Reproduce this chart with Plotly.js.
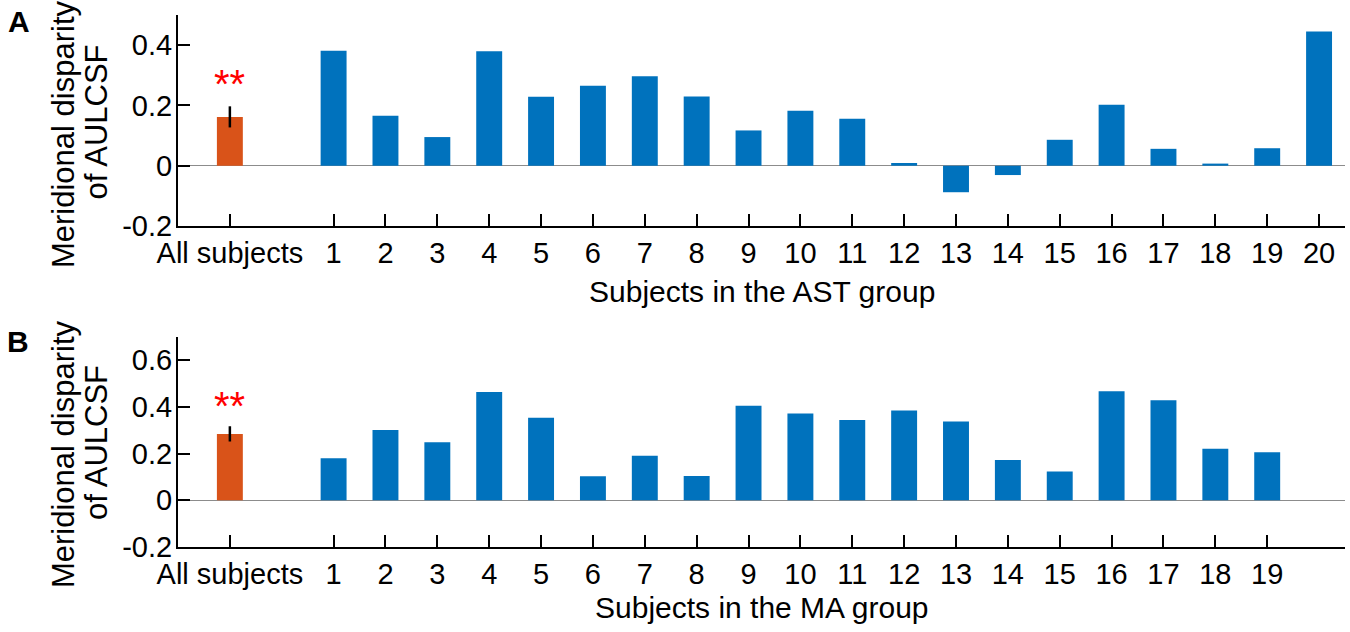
<!DOCTYPE html>
<html>
<head>
<meta charset="utf-8">
<script src="https://cdn.plot.ly/plotly-3.0.1.min.js"></script>
<style>body{margin:0;background:#fff}#chart{width:1350px;height:632px}</style>
</head>
<body>
<div id="chart"></div>
<script>
// ---- data ----
const allLabel = "All subjects";
const astSubjects = ["1","2","3","4","5","6","7","8","9","10","11","12","13","14","15","16","17","18","19","20"];
const astValues = [0.381,0.166,0.095,0.380,0.229,0.265,0.297,0.230,0.117,0.182,0.156,0.009,-0.088,-0.031,0.086,0.202,0.056,0.007,0.058,0.445];
const astAllMean = [0.162];
const astAllErr = [0.035];
const maSubjects = ["1","2","3","4","5","6","7","8","9","10","11","12","13","14","15","16","17","18","19"];
const maValues = [0.180,0.301,0.248,0.463,0.353,0.103,0.190,0.104,0.404,0.371,0.344,0.384,0.337,0.172,0.123,0.467,0.428,0.221,0.205];
const maAllMean = [0.284];
const maAllErr = [0.033];
const sigMark = "**";

// ---- positions: "All subjects" at 0, subject i at i+1 ----
const pos = arr => arr.map((_, i) => i + 2);
const blue = "#0072BD", orange = "#D95319";
const FONT = "Liberation Sans, Arial, sans-serif";
const TICK = 29, TITLE = 30, YTITLE = 31;

const traces = [
  {type:"bar", x:[0], y:astAllMean, width:0.5, marker:{color:orange},
   error_y:{type:"data", array:astAllErr, visible:true, color:"#000", thickness:2.5, width:0},
   xaxis:"x", yaxis:"y", hoverinfo:"y"},
  {type:"bar", x:pos(astSubjects), y:astValues, width:0.5, marker:{color:blue},
   xaxis:"x", yaxis:"y", hoverinfo:"y"},
  {type:"bar", x:[0], y:maAllMean, width:0.5, marker:{color:orange},
   error_y:{type:"data", array:maAllErr, visible:true, color:"#000", thickness:2.5, width:0},
   xaxis:"x2", yaxis:"y2", hoverinfo:"y"},
  {type:"bar", x:pos(maSubjects), y:maValues, width:0.5, marker:{color:blue},
   xaxis:"x2", yaxis:"y2", hoverinfo:"y"}
];

const xCommon = {
  range:[-1, 21.5], showline:true, linecolor:"#000", linewidth:2,
  ticks:"inside", ticklen:12, tickwidth:2, tickcolor:"#000",
  showgrid:false, zeroline:false, tickfont:{family:FONT, size:TICK, color:"#000"},
  fixedrange:true
};
const yCommon = {
  showline:true, linecolor:"#000", linewidth:2,
  ticks:"inside", ticklen:12, tickwidth:2, tickcolor:"#000",
  showgrid:false, zeroline:true, zerolinecolor:"#8c8c8c", zerolinewidth:1.2,
  tickfont:{family:FONT, size:TICK, color:"#000"}, ticklabelstandoff:-2, fixedrange:true
};

const layout = {
  width:1350, height:632,
  margin:{l:178, r:5, t:15, b:85},
  paper_bgcolor:"#fff", plot_bgcolor:"#fff",
  showlegend:false, barmode:"overlay",
  xaxis: Object.assign({}, xCommon, {domain:[0,1], anchor:"y",
    tickvals:[0].concat(pos(astSubjects)), ticktext:[allLabel].concat(astSubjects)}),
  yaxis: Object.assign({}, yCommon, {domain:[0.6034,1], anchor:"x",
    range:[-0.2,0.5], tickvals:[-0.2,0,0.2,0.4], ticktext:["-0.2","0","0.2","0.4"]}),
  xaxis2: Object.assign({}, xCommon, {domain:[0,1], anchor:"y2",
    tickvals:[0].concat(pos(maSubjects)), ticktext:[allLabel].concat(maSubjects)}),
  yaxis2: Object.assign({}, yCommon, {domain:[0,0.3953], anchor:"x2",
    range:[-0.2,0.7], tickvals:[-0.2,0,0.2,0.4,0.6], ticktext:["-0.2","0","0.2","0.4","0.6"]}),
  annotations:[
    {text:"A", xref:"paper", yref:"paper", x:-0.1362, y:0.9878, xanchor:"center", yanchor:"middle",
     showarrow:false, font:{family:FONT, size:30, color:"#000", weight:"bold"}},
    {text:"B", xref:"paper", yref:"paper", x:-0.1370, y:0.3863, xanchor:"center", yanchor:"middle",
     showarrow:false, font:{family:FONT, size:30, color:"#000", weight:"bold"}},
    {text:"Meridional disparity", xref:"paper", yref:"paper", x:-0.0985, y:0.7763, textangle:-90,
     xanchor:"center", yanchor:"middle", showarrow:false, font:{family:FONT, size:YTITLE, color:"#000"}},
    {text:"of AULCSF", xref:"paper", yref:"paper", x:-0.0694, y:0.7979, textangle:-90,
     xanchor:"center", yanchor:"middle", showarrow:false, font:{family:FONT, size:YTITLE, color:"#000"}},
    {text:"Meridional disparity", xref:"paper", yref:"paper", x:-0.0985, y:0.1748, textangle:-90,
     xanchor:"center", yanchor:"middle", showarrow:false, font:{family:FONT, size:YTITLE, color:"#000"}},
    {text:"of AULCSF", xref:"paper", yref:"paper", x:-0.0694, y:0.1955, textangle:-90,
     xanchor:"center", yanchor:"middle", showarrow:false, font:{family:FONT, size:YTITLE, color:"#000"}},
    {text:"Subjects in the AST group", xref:"paper", yref:"paper", x:0.5, y:0.4812,
     xanchor:"center", yanchor:"middle", showarrow:false, font:{family:FONT, size:TITLE, color:"#000"}},
    {text:"Subjects in the MA group", xref:"paper", yref:"paper", x:0.5, y:-0.1128,
     xanchor:"center", yanchor:"middle", showarrow:false, font:{family:FONT, size:TITLE, color:"#000"}},
    {text:sigMark, xref:"x", yref:"y", x:0, y:astAllMean[0]+astAllErr[0], yanchor:"bottom", yshift:-2,
     showarrow:false, font:{family:FONT, size:40, color:"#ff0000"}},
    {text:sigMark, xref:"x2", yref:"y2", x:0, y:maAllMean[0]+maAllErr[0], yanchor:"bottom", yshift:-4,
     showarrow:false, font:{family:FONT, size:40, color:"#ff0000"}}
  ]
};

Plotly.newPlot("chart", traces, layout, {displayModeBar:false, staticPlot:true});
</script>
</body>
</html>
